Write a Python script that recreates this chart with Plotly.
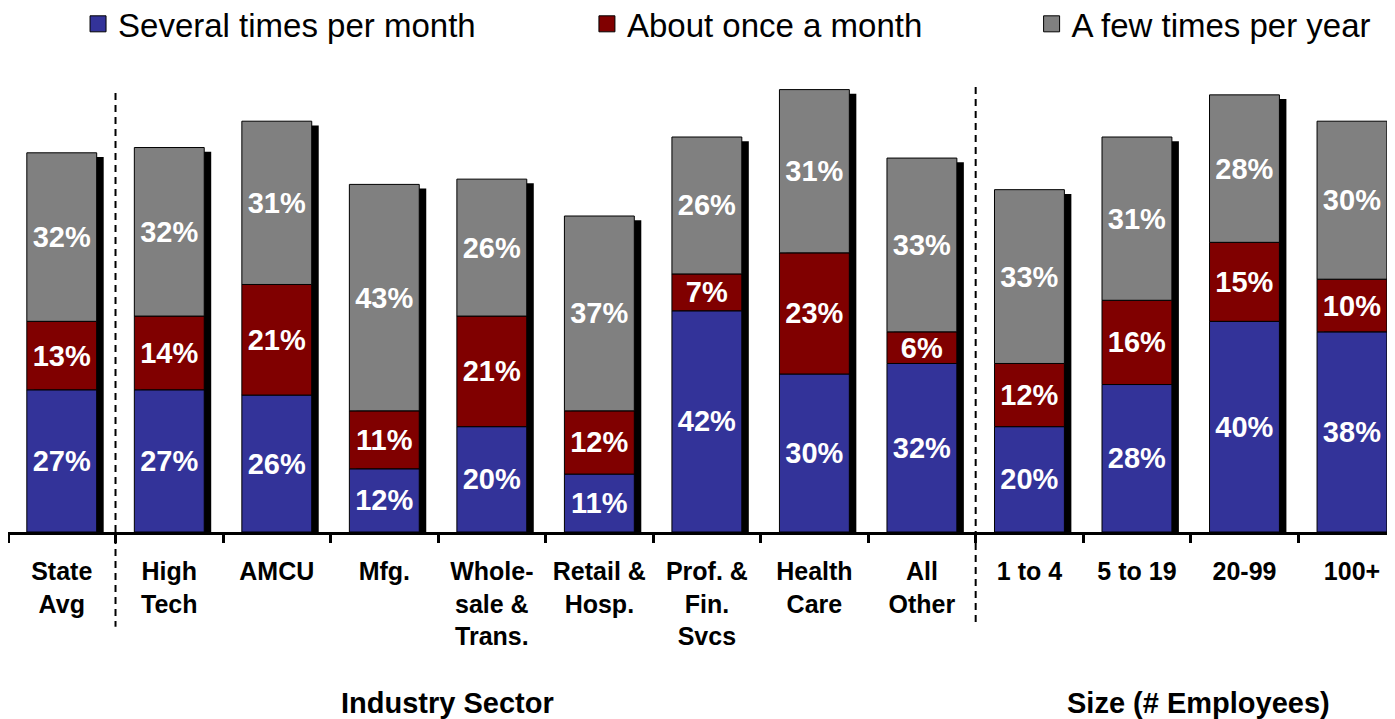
import plotly.graph_objects as go

categories = ["State<br>Avg", "High<br>Tech", "AMCU", "Mfg.", "Whole-<br>sale &<br>Trans.",
              "Retail &<br>Hosp.", "Prof. &<br>Fin.<br>Svcs", "Health<br>Care", "All<br>Other",
              "1 to 4", "5 to 19", "20-99", "100+"]
several = [27, 27, 26, 12, 20, 11, 42, 30, 32, 20, 28, 40, 38]
once = [13, 14, 21, 11, 21, 12, 7, 23, 6, 12, 16, 15, 10]
few = [32, 32, 31, 43, 26, 37, 26, 31, 33, 33, 31, 28, 30]
series_names = ["Several times per month", "About once a month", "A few times per year"]
colors = ["#333399", "#800000", "#808080"]
group_labels = ["Industry Sector", "Size (# Employees)"]

FONT = "Liberation Sans, Arial, sans-serif"
BAR_W = 0.65
X_RANGE = [-0.5, 12.4]
Y_RANGE = [0, 90]

totals = [a + b + c for a, b, c in zip(several, once, few)]
base2 = list(several)
base3 = [a + b for a, b in zip(several, once)]

fig = go.Figure()

# shadows
fig.add_trace(go.Bar(
    x=categories, y=[t - 0.8 for t in totals], base=0,
    width=BAR_W, offset=-BAR_W / 2 + 0.065,
    marker=dict(color="black", line=dict(width=0)),
    hoverinfo="skip", showlegend=False))

for vals, base, name, col in zip([several, once, few], [0, base2, base3], series_names, colors):
    fig.add_trace(go.Bar(
        x=categories, y=vals, base=base, name=name, width=BAR_W,
        marker=dict(color=col, line=dict(color="black", width=1)),
        text=[f"{v}%" for v in vals], textposition="inside",
        insidetextanchor="middle", constraintext="none",
        textfont=dict(family=FONT, size=29, color="white", weight="bold"),
        showlegend=False))

legend_x = [0.0505, 0.4174, 0.738]
legend_keys = ["legend", "legend2", "legend3"]
for name, col, key in zip(series_names, colors, legend_keys):
    fig.add_trace(go.Scatter(
        x=[None], y=[None], mode="markers", name=name, legend=key,
        marker=dict(symbol="square", size=16, color=col, line=dict(color="black", width=1))))

legend_common = dict(orientation="h", yanchor="middle", y=1.072, xanchor="left",
                     font=dict(family=FONT, size=33, color="black"),
                     bgcolor="rgba(0,0,0,0)", itemwidth=30)
layout_legends = {k: dict(legend_common, x=lx) for k, lx in zip(legend_keys, legend_x)}

span = X_RANGE[1] - X_RANGE[0]
shapes = []
for boundary, ytop in [(0.5, 0.926), (8.5, 0.939)]:
    px = (boundary - X_RANGE[0]) / span
    shapes.append(dict(type="line", xref="paper", yref="paper", x0=px, x1=px,
                       y0=ytop, y1=-0.2, line=dict(color="black", width=2, dash="7px,5px")))

annotations = []
for lbl, cx in zip(group_labels, [4.0 - 0.41, 10.57]):
    annotations.append(dict(text=lbl, xref="paper", yref="paper",
                            x=(cx - X_RANGE[0]) / span, y=-0.36, showarrow=False,
                            xanchor="center", yanchor="middle",
                            font=dict(family=FONT, size=29, color="black", weight="bold")))

fig.update_layout(
    template="none",
    width=1387, height=711, autosize=False,
    margin=dict(l=0, r=0, t=50, b=187, autoexpand=False),
    barmode="overlay",
    plot_bgcolor="white", paper_bgcolor="white",
    uniformtext=dict(minsize=29, mode="show"),
    shapes=shapes, annotations=annotations,
    xaxis=dict(type="category", range=X_RANGE, showline=True, linecolor="black", linewidth=3,
               ticks="outside", tickson="boundaries", ticklen=8, tickwidth=3, tickcolor="black",
               showgrid=False, zeroline=False, automargin=False, ticklabelstandoff=15,
               tickfont=dict(family=FONT, size=25, color="black", weight="bold")),
    yaxis=dict(range=Y_RANGE, visible=False, showgrid=False, zeroline=False, automargin=False),
    **layout_legends,
)

fig.write_html("out.html")
